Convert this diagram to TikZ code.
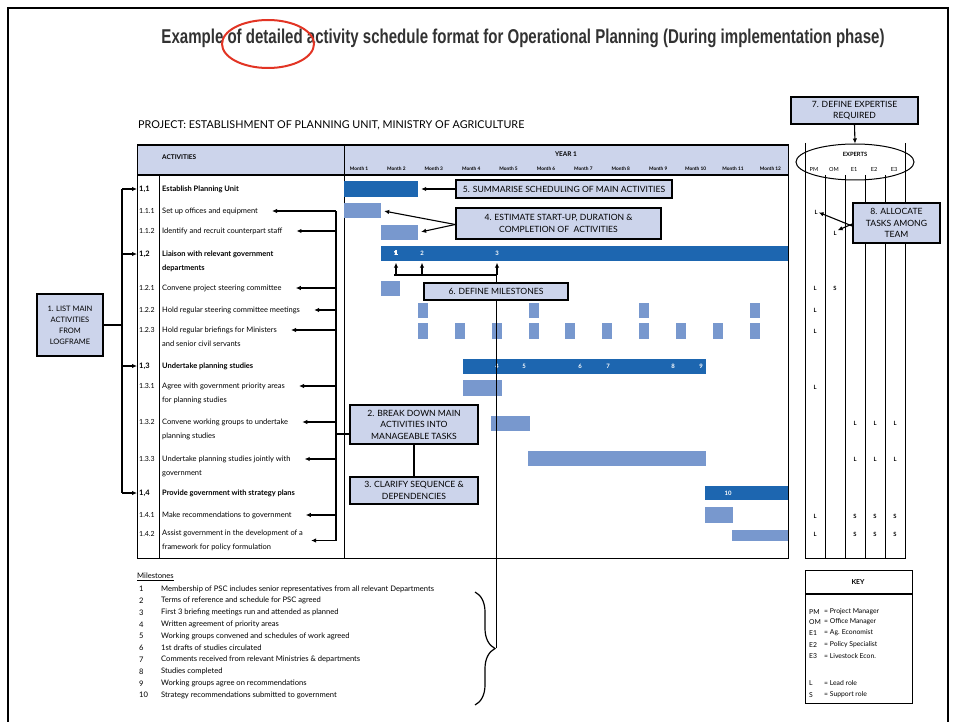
\documentclass[tikz,border=0pt]{standalone}
\usepackage{fontspec}
\setmainfont{Lato}
\newfontfamily\titlefont{Liberation Sans}
\usepackage{graphicx}
\usetikzlibrary{arrows.meta,positioning,fit,shapes.geometric,decorations.pathreplacing}
\definecolor{HeadBlue}{RGB}{204,212,235}
\definecolor{BarDark}{RGB}{29,102,176}
\definecolor{BarLight}{RGB}{120,152,206}
\definecolor{CircleRed}{RGB}{226,52,36}
\definecolor{TitleGrey}{RGB}{50,50,50}
\newcommand{\actfont}{\fontsize{7.5}{14}\selectfont}
\newcommand{\ganttbar}[6]{%
  \node[fit={(#3,#4) (#5,#6)},inner sep=0pt,fill=#2] (#1) {};}
\tikzset{
  num/.style={anchor=west,inner sep=0pt,font=\fontsize{7}{14}\selectfont},
  act/.style={anchor=west,inner sep=0pt,align=left,font=\actfont},
  main/.style={font=\actfont\bfseries},
  head/.style={inner sep=0pt,font=\fontsize{6.5}{8}\selectfont\bfseries},
  month/.style={inner sep=0pt,font=\fontsize{4.8}{5}\selectfont\bfseries},
  barnum/.style={inner sep=0pt,text=white,font=\fontsize{6}{7}\selectfont\bfseries},
  role/.style={inner sep=0pt,font=\fontsize{5.8}{6}\selectfont\bfseries},
  callout/.style={draw,line width=1.6pt,fill=HeadBlue,align=center,inner sep=0pt,
    font=\fontsize{8.6}{11.5}\selectfont},
  small/.style={anchor=west,inner sep=0pt,font=\fontsize{7.6}{8}\selectfont},
  keytext/.style={anchor=west,inner sep=0pt,font=\fontsize{6.8}{7}\selectfont},
  link/.style={line width=1.2pt},
  arr/.style={-{Latex[length=5pt,width=4.5pt]},line width=1.1pt},
}

\begin{document}
\begin{tikzpicture}[x=1pt,y=-1pt]
  \useasboundingbox (0,0) rectangle (955,722);
  \draw[line width=2pt] (8,722) -- (8,8) -- (948,8) -- (948,722);
  \node[font=\titlefont\fontsize{20}{24}\selectfont\bfseries,text=TitleGrey] (title) at (523,38)
    {\resizebox{723pt}{\height}{Example of detailed activity schedule format for Operational Planning (During implementation phase)}};
  \node[draw=CircleRed,line width=2pt,ellipse,minimum width=92,minimum height=48] (ring) at (268,44) {};
  \node[anchor=west,inner sep=0pt,font=\fontsize{10.8}{12}\selectfont] (project) at (138,125)
    {PROJECT: ESTABLISHMENT OF PLANNING UNIT, MINISTRY OF AGRICULTURE};

  % schedule table
  \fill[HeadBlue] (137,145) rectangle (788,175);
  \draw[line width=1pt] (137,145) rectangle (788,558);
  \draw[line width=1.8pt] (137,145) -- (788,145);
  \draw[line width=1.8pt] (137,175) -- (788,175);
  \draw[line width=0.8pt] (159,175) -- (159,558);
  \draw[line width=1pt] (344,145) -- (344,558);
  \node[head,anchor=west] (acthead) at (162,157) {ACTIVITIES};
  \node[head] (year) at (566,154) {YEAR 1};
  \foreach \m in {1,...,12}
    \node[month] (month\m) at (359+37.4*\m-37.4,169) {Month \m};

  \node[num,main] (n11) at (139,189) {1,1};
  \node[act,main] (t11) at (162,189) {Establish Planning Unit};
  \node[num] (n111) at (139,211) {1.1.1};
  \node[act] (t111) at (162,211) {Set up offices and equipment};
  \node[num] (n112) at (139,231) {1.1.2};
  \node[act] (t112) at (162,231) {Identify and recruit counterpart staff};
  \node[num,main] (n12) at (139,254) {1,2};
  \node[act,main] (t12) at (162,261) {Liaison with relevant government\\departments};
  \node[num] (n121) at (139,288) {1.2.1};
  \node[act] (t121) at (162,288) {Convene project steering committee};
  \node[num] (n122) at (139,310) {1.2.2};
  \node[act] (t122) at (162,310) {Hold regular steering committee meetings};
  \node[num] (n123) at (139,330) {1.2.3};
  \node[act] (t123) at (162,337) {Hold regular briefings for Ministers\\and senior civil servants};
  \node[num,main] (n13) at (139,366) {1,3};
  \node[act,main] (t13) at (162,366) {Undertake planning studies};
  \node[num] (n131) at (139,386) {1.3.1};
  \node[act] (t131) at (162,393) {Agree with government priority areas\\for planning studies};
  \node[num] (n132) at (139,422) {1.3.2};
  \node[act] (t132) at (162,429) {Convene working groups to undertake\\planning studies};
  \node[num] (n133) at (139,459) {1.3.3};
  \node[act] (t133) at (162,466) {Undertake planning studies jointly with\\government};
  \node[num,main] (n14) at (139,493) {1,4};
  \node[act,main] (t14) at (162,493) {Provide government with strategy plans};
  \node[num] (n141) at (139,515) {1.4.1};
  \node[act] (t141) at (162,515) {Make recommendations to government};
  \node[num] (n142) at (139,534) {1.4.2};
  \node[act] (t142) at (162,540.5) {Assist government in the development of a\\framework for policy formulation};

  % bars
  \ganttbar{b11}{BarDark}{344}{181}{418}{197}
  \ganttbar{b111}{BarLight}{344}{203}{381}{218}
  \ganttbar{b112}{BarLight}{381}{225}{418}{240}
  \ganttbar{b12}{BarDark}{381}{246}{788}{261}
  \ganttbar{b121}{BarLight}{381}{281}{400}{296}
  \foreach \x [count=\i] in {418,529,639,750}
    \ganttbar{b122\i}{BarLight}{\x}{303}{\x+10}{318}
  \foreach \m in {2,...,11}
    \ganttbar{b123\m}{BarLight}{344+36.9*\m}{323}{354+36.9*\m}{339}
  \ganttbar{b13}{BarDark}{463}{359}{706}{374}
  \ganttbar{b131}{BarLight}{463}{380}{502}{396}
  \ganttbar{b132}{BarLight}{491}{416}{530}{431}
  \ganttbar{b133}{BarLight}{528}{451}{706}{466}
  \ganttbar{b14}{BarDark}{705}{486}{788}{500}
  \ganttbar{b141}{BarLight}{705}{507}{733}{523}
  \ganttbar{b142}{BarLight}{732}{530}{788}{541}
  \node[barnum] (m1) at (396,253.5) {1};
  \node[barnum] (m2) at (422,253.5) {2};
  \node[barnum] (m3) at (497,253.5) {3};
  \node[barnum] (m4) at (497,366.5) {4};
  \node[barnum] (m5) at (524,366.5) {5};
  \node[barnum] (m6) at (580,366.5) {6};
  \node[barnum] (m7) at (608,366.5) {7};
  \node[barnum] (m8) at (673,366.5) {8};
  \node[barnum] (m9) at (701,366.5) {9};
  \node[barnum] (m10) at (728,493) {10};

  % milestones
  \node[small] (msh) at (137,577) {\underline{Milestones}};
  \foreach \t [count=\i] in {Membership of PSC includes senior representatives from all relevant Departments,
      Terms of reference and schedule for PSC agreed,
      First 3 briefing meetings run and attended as planned,
      Written agreement of priority areas,
      Working groups convened and schedules of work agreed,
      1st drafts of studies circulated,
      Comments received from relevant Ministries \& departments,
      Studies completed,
      Working groups agree on recommendations,
      Strategy recommendations submitted to government} {
    \node[small] (msn\i) at (139,589+11.8*\i-11.8) {\i};
    \node[small] (mst\i) at (161,589+11.8*\i-11.8) {\t};
  }
  \draw[link,decorate,decoration={brace,amplitude=20pt}] (475,592) -- (475,705);
  \coordinate (mtip) at (496,648);
  \coordinate (mrow) at (496,275);
  \draw[line width=1pt] (mtip) -- (mrow);
  \draw[link] (mrow) -- ([xshift=-2pt]mrow -| m1);
  \foreach \k in {m1,m2,m3}
    \draw[arr,shorten >=1.5pt] (mrow -| \k) -- (\k |- b12.south);

  % experts
  \draw[line width=0.9pt] (805,143) -- (805,558) -- (905,558) -- (905,143);
  \foreach \x in {825,845,865,885}
    \draw[line width=0.7pt] (\x,175) -- (\x,558);
  \node[draw,line width=1pt,ellipse,minimum width=118,minimum height=36] (experts) at (855,162) {};
  \node[role] (exphead) at (855,154) {EXPERTS};
  \foreach \c/\x [count=\i] in {PM/814,OM/834,E1/854,E2/874,E3/894}
    \node[role,font=\fontsize{5.6}{6}\selectfont] (code\i) at (\x,169) {\c};
  \foreach \x/\y/\r [count=\i] in {816/212/L,835/233/L,815/288/L,835/288/S,815/310/L,815/331/L,815/387/L,
      855/423/L,875/423/L,895/423/L,855/459/L,875/459/L,895/459/L,
      815/516/L,855/516/S,875/516/S,895/516/S,815/534/L,855/534/S,875/534/S,895/534/S}
    \node[role] (r\i) at (\x,\y) {\r};

  % key
  \draw[line width=1pt] (805,570) rectangle (912,703);
  \draw[line width=1.3pt] (805,594) -- (912,594);
  \node[role,font=\fontsize{6.8}{7}\selectfont\bfseries] (key) at (858,582) {KEY};
  \foreach \a/\b/\y [count=\i] in {PM/Project Manager/612,OM/Office Manager/622,E1/Ag. Economist/633,
      E2/Policy Specialist/645,E3/Livestock Econ./656,L/Lead role/683,S/Support role/695} {
    \node[keytext] (ka\i) at (809,\y) {\a};
    \node[keytext] (kb\i) at (824,\y) {= \b};
  }

  % left bracket to main activities
  \node[callout,minimum width=66,minimum height=62,font=\fontsize{7.5}{11}\selectfont] (c1) at (70,325) {1. LIST MAIN\\ACTIVITIES\\FROM\\LOGFRAME};
  \coordinate (lb) at (122,189);
  \draw[link] (lb) -- (lb |- n14);
  \draw[link] (c1.east) -- (c1.east -| lb);
  \foreach \a in {11,12,13,14}
    \draw[arr,shorten >=2pt] (lb |- n\a) -- (n\a.west);

  % right bracket to tasks
  \coordinate (rb) at (336,211);
  \draw[link] (rb) -- (rb |- t142);
  \foreach \a in {111,112,121,122,123,131,132,133,141}
    \draw[arr] (rb |- n\a) -- ([xshift=14pt]t\a.east |- n\a);
  \draw[arr] (rb |- t142) -- ([xshift=8pt]t142.east);
  \coordinate (rlink) at (336,434);
  \node[callout,minimum width=128,minimum height=39] (c2) at (414,424.5) {2. BREAK DOWN MAIN\\ACTIVITIES INTO\\MANAGEABLE TASKS};
  \node[callout,minimum width=128,minimum height=27] (c3) at (414,490.5) {3. CLARIFY SEQUENCE \&\\DEPENDENCIES};
  \draw[link] (rlink) -- (rlink -| c2.west);
  \draw[link] (c2) -- (c3);

  % callouts on the chart
  \node[callout,minimum width=205,minimum height=31] (c4) at (558.5,223.5) {4. ESTIMATE START-UP, DURATION \&\\COMPLETION OF\ \ ACTIVITIES};
  \node[callout,minimum width=216,minimum height=18] (c5) at (564,189) {5. SUMMARISE SCHEDULING OF MAIN ACTIVITIES};
  \node[callout,minimum width=144,minimum height=17] (c6) at (496,291.5) {6. DEFINE MILESTONES};
  \node[callout,minimum width=127,minimum height=27] (c7) at (854.5,110.5) {7. DEFINE EXPERTISE\\REQUIRED};
  \node[callout,minimum width=87,minimum height=40] (c8) at (896.5,223) {8. ALLOCATE\\TASKS AMONG\\TEAM};
  \draw[arr,shorten >=3pt] (c5.west) -- (b11.east);
  \draw[arr,shorten >=3pt] ([yshift=-1pt]c4.west) -- (b111.east);
  \draw[arr,shorten >=3pt] ([yshift=-1pt]c4.west) -- (b112.east);
  \draw[arr] (c7.south) -- (experts.north);
  \draw[arr,shorten >=1pt] ([yshift=-3pt]c8.west) -- (r1.east);
  \draw[arr,shorten >=1pt] ([yshift=-1pt]c8.west) -- (r2.north east);
\end{tikzpicture}
\end{document}
